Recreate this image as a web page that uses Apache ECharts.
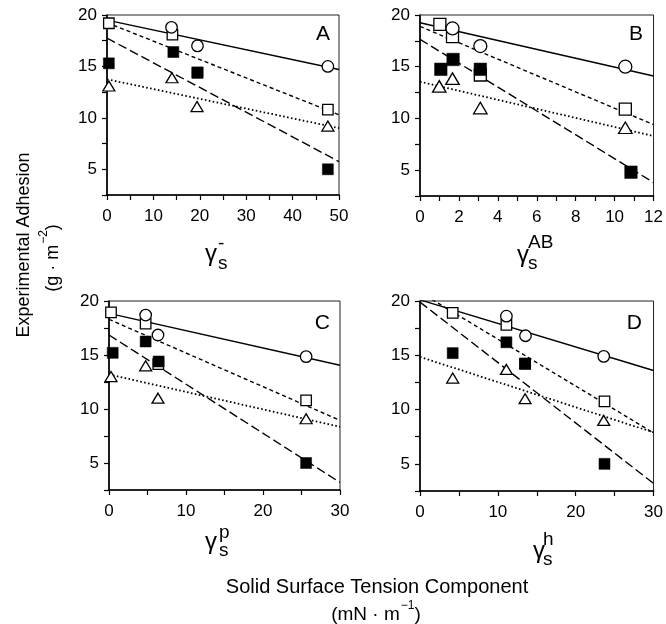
<!DOCTYPE html>
<html>
<head>
<meta charset="utf-8">
<script src="https://cdn.jsdelivr.net/npm/echarts@6/dist/echarts.min.js"></script>
<style>
  html, body { margin: 0; padding: 0; background: #fff; }
  #chart { width: 666px; height: 624px; }
</style>
</head>
<body>
<div id="chart"></div>
<script>
// Adhesion (g·m⁻²) against four surface tension components (mN·m⁻¹).
// Four data sets per panel: open circles, open squares, filled squares, open triangles,
// each with its least-squares line (solid, short dash, long dash, dotted).

// ---- Panel A: γs⁻ ----
const aCircleX = [13.9, 19.5, 47.6];
const aCircleY = [18.8, 17.0, 15.0];
const aOpenX   = [0.4, 14.1, 19.5, 47.6];
const aOpenY   = [19.2, 18.1, 14.4, 10.8];
const aFilledX = [0.4, 14.3, 19.5, 47.6];
const aFilledY = [15.3, 16.4, 14.4, 5.0];
const aTriX    = [0.4, 14.0, 19.4, 47.6];
const aTriY    = [13.1, 13.9, 11.1, 9.2];
const aFitAt0   = [19.5, 19.25, 17.75, 13.75];   // solid, short dash, long dash, dotted
const aFitAtMax = [14.7, 10.3, 5.75, 9.0];

// ---- Panel B: γs^AB ----
const bCircleX = [1.67, 3.1, 10.55];
const bCircleY = [18.7, 17.0, 15.0];
const bOpenX   = [1.02, 1.67, 3.1, 10.55];
const bOpenY   = [19.1, 17.9, 14.2, 10.9];
const bFilledX = [1.07, 1.7, 3.1, 10.84];
const bFilledY = [14.75, 15.7, 14.75, 4.8];
const bTriX    = [0.99, 1.67, 3.1, 10.55];
const bTriY    = [13.1, 13.85, 11.0, 9.1];
const bFitAt0   = [19.25, 18.9, 17.65, 13.55];
const bFitAtMax = [14.1, 9.4, 3.8, 8.3];

// ---- Panel C: γs^p ----
const cCircleX = [4.76, 6.36, 25.6];
const cCircleY = [18.7, 16.85, 14.85];
const cOpenX   = [0.26, 4.76, 6.4, 25.6];
const cOpenY   = [18.95, 17.9, 14.15, 10.8];
const cFilledX = [0.48, 4.76, 6.45, 25.6];
const cFilledY = [15.2, 16.25, 14.4, 5.0];
const cTriX    = [0.26, 4.76, 6.36, 25.6];
const cTriY    = [13.0, 14.0, 11.0, 9.1];
const cFitAt0   = [18.85, 18.3, 16.85, 13.2];
const cFitAtMax = [14.05, 8.95, 3.2, 8.35];

// ---- Panel D: γs^h ----
const dCircleX = [11.1, 13.55, 23.6];
const dCircleY = [18.6, 16.8, 14.9];
const dOpenX   = [4.2, 11.1, 13.5, 23.7];
const dOpenY   = [18.9, 17.8, 14.2, 10.75];
const dFilledX = [4.2, 11.1, 13.5, 23.7];
const dFilledY = [15.2, 16.2, 14.25, 5.0];
const dTriX    = [4.2, 11.1, 13.5, 23.6];
const dTriY    = [12.9, 13.7, 11.0, 9.0];
const dFitAt0   = [20.1, 20.8, 19.9, 14.85];
const dFitAtMax = [13.6, 7.85, 3.2, 7.9];

// Axis ranges and tick labels
const xMaxes      = [50, 12, 30, 30];
const xTickSteps  = [5, 1, 5, 5];
const xLabelSteps = [10, 2, 10, 10];
const yMin = 2.5, yMax = 20, yTickStep = 2.5, yLabelStep = 5;
const panelLetters = ['A', 'B', 'C', 'D'];
const axisSuperscripts = ['-', 'AB', 'p', 'h'];
const yTitle = 'Experimental Adhesion';
const xTitle = 'Solid Surface Tension Component';

const FONT = '"Liberation Sans", Arial, Helvetica, sans-serif';

const panels = [
  [aCircleX, aCircleY, aOpenX, aOpenY, aFilledX, aFilledY, aTriX, aTriY, aFitAt0, aFitAtMax],
  [bCircleX, bCircleY, bOpenX, bOpenY, bFilledX, bFilledY, bTriX, bTriY, bFitAt0, bFitAtMax],
  [cCircleX, cCircleY, cOpenX, cOpenY, cFilledX, cFilledY, cTriX, cTriY, cFitAt0, cFitAtMax],
  [dCircleX, dCircleY, dOpenX, dOpenY, dFilledX, dFilledY, dTriX, dTriY, dFitAt0, dFitAtMax]
];

const gridBoxes = [
  { left: 107, top: 15,  width: 232, height: 180 },
  { left: 420, top: 15,  width: 235, height: 181 },
  { left: 109, top: 301, width: 231, height: 189 },
  { left: 420, top: 301, width: 234, height: 190 }
];
const markerSizes = [11, 12.5, 11, 11];

const zip = (xs, ys) => xs.map((x, i) => [x, ys[i]]);
const lineDashes = ['solid', [4, 3], [9, 4], [1.6, 2.4]];

const grid = [], xAxis = [], yAxis = [], series = [];

panels.forEach((p, i) => {
  const [cx, cy, ox, oy, fx, fy, tx, ty, fit0, fitMax] = p;
  const g = gridBoxes[i];
  grid.push({ left: g.left, top: g.top, width: g.width, height: g.height,
              show: true, borderColor: '#222', borderWidth: 1, backgroundColor: 'transparent' });
  const lblStep = xLabelSteps[i];
  xAxis.push({
    gridIndex: i, type: 'value', min: 0, max: xMaxes[i], interval: xTickSteps[i],
    axisLine: { show: true, onZero: false, lineStyle: { color: '#000', width: 1.6 } },
    axisTick: { show: true, length: 5, lineStyle: { color: '#000', width: 1.2 } },
    axisLabel: { color: '#000', fontSize: 17, fontFamily: FONT, margin: 13,
                 showMinLabel: true, showMaxLabel: true,
                 formatter: v => (Math.abs(v % lblStep) < 1e-9 ? String(v) : '') },
    splitLine: { show: false }
  });
  yAxis.push({
    gridIndex: i, type: 'value', min: yMin, max: yMax, interval: yTickStep,
    axisLine: { show: true, onZero: false, lineStyle: { color: '#000', width: 1.6 } },
    axisTick: { show: true, length: 5, lineStyle: { color: '#000', width: 1.2 } },
    axisLabel: { color: '#000', fontSize: 17, fontFamily: FONT, margin: 10,
                 showMinLabel: true, showMaxLabel: true,
                 formatter: v => (Math.abs(v % yLabelStep) < 1e-9 ? String(v) : '') },
    splitLine: { show: false }
  });

  // fitted lines
  for (let k = 0; k < 4; k++) {
    series.push({
      type: 'line', xAxisIndex: i, yAxisIndex: i, symbol: 'none', clip: true, silent: true,
      data: [[0, fit0[k]], [xMaxes[i], fitMax[k]]],
      lineStyle: { color: '#000', width: k === 3 ? 1.8 : 1.4, type: lineDashes[k], cap: 'butt' },
      z: 2
    });
  }
  const ms = markerSizes[i];
  const openStyle = { color: '#fff', borderColor: '#000', borderWidth: 1.3, opacity: 1 };
  series.push({ type: 'scatter', xAxisIndex: i, yAxisIndex: i, symbol: 'rect', symbolSize: ms - 0.5,
                data: zip(ox, oy), itemStyle: openStyle, z: 3, silent: true });
  series.push({ type: 'scatter', xAxisIndex: i, yAxisIndex: i, symbol: 'circle', symbolSize: ms + 0.5,
                data: zip(cx, cy), itemStyle: openStyle, z: 4, silent: true });
  series.push({ type: 'scatter', xAxisIndex: i, yAxisIndex: i, symbol: 'triangle', symbolSize: [ms + 1, ms - 1],
                data: zip(tx, ty), itemStyle: openStyle, z: 5, silent: true });
  series.push({ type: 'scatter', xAxisIndex: i, yAxisIndex: i, symbol: 'rect', symbolSize: ms,
                data: zip(fx, fy), itemStyle: { color: '#000', borderColor: '#000', borderWidth: 0.5, opacity: 1 },
                z: 6, silent: true });
});

// Text: panel letters, axis symbols (γ with subscript s and a superscript), shared titles
const graphic = [];
const letterPos = [[330, 34], [643, 34], [330, 323], [642, 323]];
letterPos.forEach((pos, i) => {
  graphic.push({ type: 'text', x: pos[0], y: pos[1],
    style: { text: panelLetters[i], font: '21px ' + FONT, fill: '#000', align: 'right', verticalAlign: 'middle' } });
});

// γ left edge, its vertical anchor, and the horizontal offset of the sub/superscript
const gammaPos = [[205, 254.5, 13], [517, 255, 11], [205, 542, 14], [533, 551, 10]];
const supLift = [-10.5, -12, -9, -11.5];
gammaPos.forEach((pos, i) => {
  const [gx, gy, dx] = pos;
  graphic.push({ type: 'text', x: gx, y: gy,
    style: { text: 'γ', font: '24px ' + FONT, fill: '#000', align: 'left', verticalAlign: 'middle' } });
  graphic.push({ type: 'text', x: gx + dx, y: gy + 9,
    style: { text: 's', font: '19px ' + FONT, fill: '#000', align: 'left', verticalAlign: 'middle' } });
  graphic.push({ type: 'text', x: gx + dx, y: gy + supLift[i],
    style: { text: axisSuperscripts[i], font: '19px ' + FONT, fill: '#000', align: 'left', verticalAlign: 'middle' } });
});

graphic.push({ type: 'text', x: 24, y: 245, rotation: Math.PI / 2,
  style: { text: yTitle, font: '18px ' + FONT, fill: '#000', align: 'center', verticalAlign: 'middle' } });
graphic.push({ type: 'text', x: 50, y: 258, rotation: Math.PI / 2,
  style: { text: '{n|(g · m}{s|−2}{n|)}', fill: '#000', align: 'center', verticalAlign: 'middle',
    rich: { n: { fontSize: 18, fontFamily: FONT, lineHeight: 24, verticalAlign: 'bottom' },
            s: { fontSize: 12, fontFamily: FONT, lineHeight: 24, verticalAlign: 'top', padding: [0, 0, 0, 1] } } } });
graphic.push({ type: 'text', x: 377, y: 587,
  style: { text: xTitle, font: '20px ' + FONT, fill: '#000', align: 'center', verticalAlign: 'middle' } });
graphic.push({ type: 'text', x: 376, y: 612,
  style: { text: '{n|(mN · m}{s|−1}{n|)}', fill: '#000', align: 'center', verticalAlign: 'middle',
    rich: { n: { fontSize: 19, fontFamily: FONT, lineHeight: 24, verticalAlign: 'bottom' },
            s: { fontSize: 12, fontFamily: FONT, lineHeight: 24, verticalAlign: 'top', padding: [0, 0, 0, 1] } } } });

const chart = echarts.init(document.getElementById('chart'), null, { renderer: 'canvas' });
chart.setOption({
  animation: false,
  backgroundColor: '#fff',
  grid, xAxis, yAxis, series, graphic
});
</script>
</body>
</html>
